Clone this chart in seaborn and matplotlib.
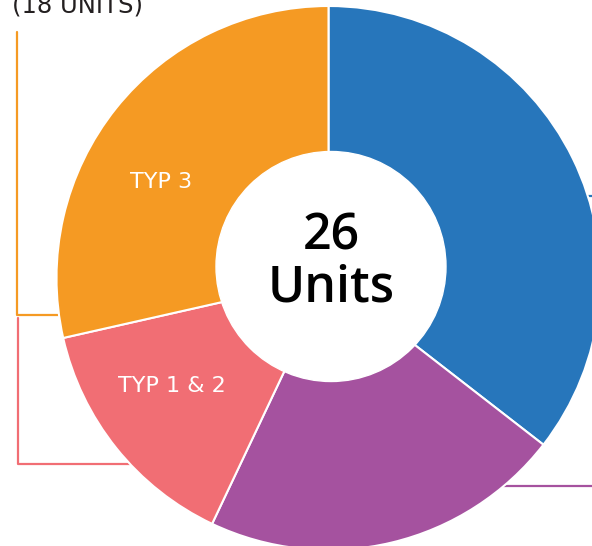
import matplotlib
matplotlib.use("Agg")
import matplotlib.pyplot as plt
import seaborn as sns

# data (share of 26 units)
labels = ["", "", "TYP 1 & 2", "TYP 3"]
values = [9.23, 5.6, 3.75, 7.42]
colors = ["#2776BB", "#A5529F", "#F16E74", "#F59A23"]
top_text = "(18 UNITS)"

sns.set_theme(style="white")
plt.rcParams['font.family'] = ['Open Sans', 'DejaVu Sans']

W, H = 592, 546
fig = plt.figure(figsize=(W / 100, H / 100), dpi=100)
ax = fig.add_axes([0, 0, 1, 1])

def py(y):
    # pixel row -> data y
    return H - y

# callout lines (drawn under the pie)
ax.plot([17, 17, 70], [py(32), py(315), py(315)], color=colors[3], lw=1.6, zorder=1)
ax.plot([18, 18, 150], [py(318), py(464), py(464)], color=colors[2], lw=1.6, zorder=1)
ax.plot([560, 600], [py(196), py(196)], color=colors[0], lw=1.6, zorder=1)
ax.plot([470, 600], [py(486), py(486)], color=colors[1], lw=1.6, zorder=1)

cx, cy, R = 328.5, py(278), 272
wedges, _ = ax.pie(values, colors=colors, startangle=90, counterclock=False,
                   center=(cx, cy), radius=R, frame=True,
                   wedgeprops=dict(edgecolor='white', linewidth=1.5))
for w in wedges:
    w.set_zorder(2)
ax.set_xlim(0, W)
ax.set_ylim(0, H)
ax.set_aspect('equal')
ax.axis('off')

# hole
hole = plt.Circle((331, py(266.5)), 115, color='white', zorder=3)
ax.add_patch(hole)

ax.text(331, py(236), "26", ha='center', va='center', fontsize=36,
        fontweight='semibold', color='black', zorder=4)
ax.text(331, py(289), "Units", ha='center', va='center', fontsize=36,
        fontweight='semibold', color='black', zorder=4)

lab_font = ['DejaVu Sans']
ax.text(161, py(182), labels[3], ha='center', va='center', fontsize=16,
        color='white', family=lab_font, zorder=4)
ax.text(172, py(386), labels[2], ha='center', va='center', fontsize=16,
        color='white', family=lab_font, zorder=4)

ax.text(12, py(13), top_text, ha='left', va='baseline', fontsize=17.5,
        color='#231F20', family=lab_font, zorder=4)

fig.savefig("out.png", dpi=100)
